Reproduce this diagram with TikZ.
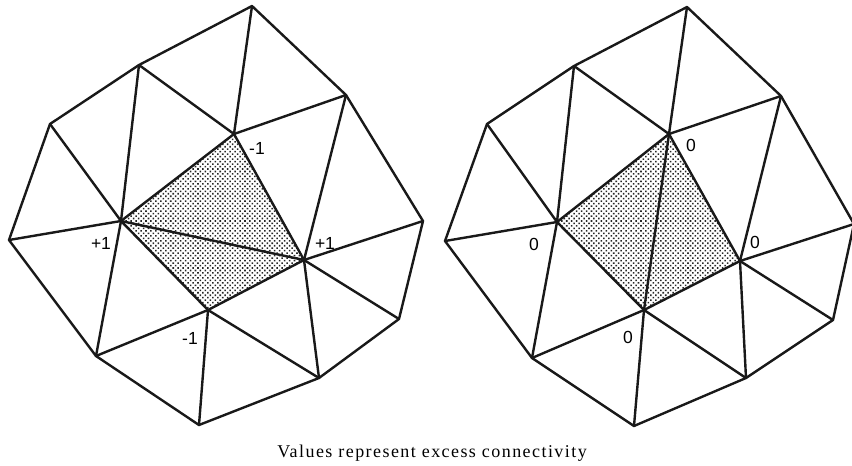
\documentclass[tikz,border=0pt]{standalone}
\usepackage{fontspec}
\setmainfont{Liberation Serif}
\setsansfont{Liberation Sans}
\usetikzlibrary{patterns.meta,backgrounds}

\begin{document}
\begin{tikzpicture}[
  x=1pt, y=-1pt,
  edge/.style={line width=2.4pt, line cap=round, line join=round, black!90},
  val/.style={inner sep=0pt, font=\sffamily\fontsize{17.5}{18}\selectfont},
  shade/.style={pattern={Dots[distance=3.5pt, radius=1.1pt, angle=45]}, pattern color=black!85},
  note/.style={inner sep=0pt, font=\fontsize{18}{19}\selectfont},
]
\useasboundingbox (0,0) rectangle (852,466);

% left mesh
\coordinate (lt) at (252,6);
\coordinate (la) at (139,65);
\coordinate (lb) at (50,124);
\coordinate (lc) at (9,240);
\coordinate (ld) at (96,356);
\coordinate (le) at (199,425);
\coordinate (lf) at (319,378);
\coordinate (lg) at (399,319);
\coordinate (lh) at (423,221);
\coordinate (li) at (346,95);
\coordinate (lA) at (121,221);
\coordinate (lB) at (234,134);
\coordinate (lC) at (304,260);
\coordinate (lD) at (208,310);

% right mesh
\coordinate (rt) at (687,7);
\coordinate (ra) at (574,66);
\coordinate (rb) at (487,124);
\coordinate (rc) at (445,241);
\coordinate (rd) at (532,358);
\coordinate (re) at (634,426);
\coordinate (rf) at (746,378);
\coordinate (rg) at (833,320);
\coordinate (rh) at (854,224);
\coordinate (ri) at (781,96);
\coordinate (rA) at (557,222);
\coordinate (rB) at (669,134);
\coordinate (rC) at (740,261);
\coordinate (rD) at (644,310);

\begin{scope}[on background layer]
  \fill[shade] (lA) -- (lB) -- (lC) -- (lD) -- cycle;
  \fill[shade] (rA) -- (rB) -- (rC) -- (rD) -- cycle;
\end{scope}

\draw[edge] (lt) -- (la) -- (lb) -- (lc) -- (ld) -- (le) -- (lf) -- (lg) -- (lh) -- (li) -- cycle;
\draw[edge] (lA) -- (lB) -- (lC) -- (lD) -- cycle;
\draw[edge] (lA) -- (lC);
\draw[edge] (lt) -- (lB);
\draw[edge] (la) -- (lB);
\draw[edge] (la) -- (lA);
\draw[edge] (lb) -- (lA);
\draw[edge] (lc) -- (lA);
\draw[edge] (ld) -- (lA);
\draw[edge] (li) -- (lB);
\draw[edge] (li) -- (lC);
\draw[edge] (lh) -- (lC);
\draw[edge] (lg) -- (lC);
\draw[edge] (lf) -- (lC);
\draw[edge] (lf) -- (lD);
\draw[edge] (le) -- (lD);
\draw[edge] (ld) -- (lD);

\draw[edge] (rt) -- (ra) -- (rb) -- (rc) -- (rd) -- (re) -- (rf) -- (rg) -- (rh) -- (ri) -- cycle;
\draw[edge] (rA) -- (rB) -- (rC) -- (rD) -- cycle;
\draw[edge] (rB) -- (rD);
\draw[edge] (rt) -- (rB);
\draw[edge] (ra) -- (rB);
\draw[edge] (ra) -- (rA);
\draw[edge] (rb) -- (rA);
\draw[edge] (rc) -- (rA);
\draw[edge] (rd) -- (rA);
\draw[edge] (ri) -- (rB);
\draw[edge] (ri) -- (rC);
\draw[edge] (rh) -- (rC);
\draw[edge] (rg) -- (rC);
\draw[edge] (rf) -- (rC);
\draw[edge] (rf) -- (rD);
\draw[edge] (re) -- (rD);
\draw[edge] (rd) -- (rD);

\node[val] (vlB) at (257,148) {-1};
\node[val] (vlA) at (101,243) {+1};
\node[val] (vlC) at (325,243) {+1};
\node[val] (vlD) at (190,338) {-1};

\node[val] (vrB) at (691,145) {0};
\node[val] (vrA) at (534,244) {0};
\node[val] (vrC) at (755,242) {0};
\node[val] (vrD) at (628,337) {0};

\node[note] (cap) at (432,453) {\addfontfeature{LetterSpace=8}Values represent excess connectivity};
\end{tikzpicture}
\end{document}
